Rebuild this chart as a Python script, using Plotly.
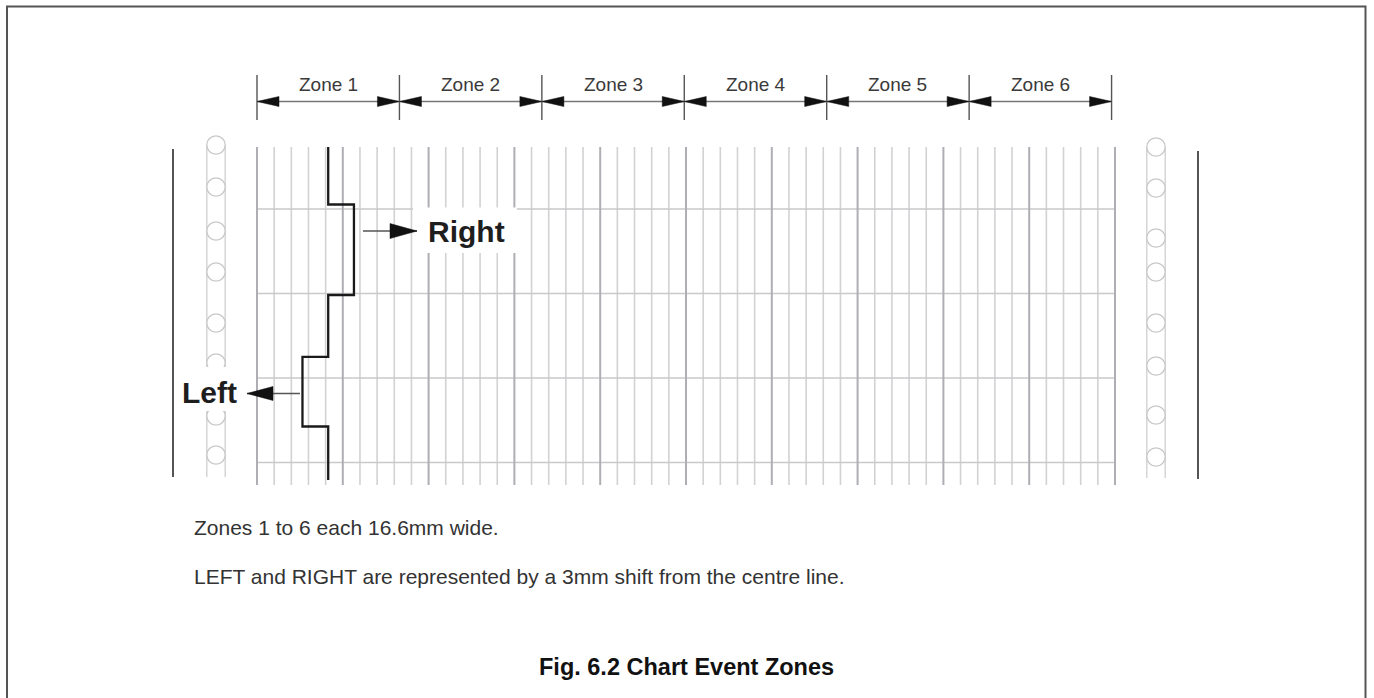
import plotly.graph_objects as go

# ---------------- data ----------------
zone_labels = ["Zone 1", "Zone 2", "Zone 3", "Zone 4", "Zone 5", "Zone 6"]
zone_width_mm = 16.6
chart_width_mm = 100
minor_grid_mm = 2
major_grid_mm = 10
time_lines = [0, 10, 20, 30]           # horizontal chart lines
centre_line_mm = 8.3                    # centre of zone 1
shift_mm = 3                            # LEFT/RIGHT shift
event_x = [8.3, 8.3, 11.3, 11.3, 8.3, 8.3, 5.3, 5.3, 8.3, 8.3]
event_y = [-7.34, -0.53, -0.53, 10.18, 10.18, 17.51, 17.51, 25.74, 25.74, 32.07]
note_lines = ["Zones 1 to 6 each 16.6mm wide.",
              "LEFT and RIGHT are represented by a 3mm shift from the centre line."]
title_text = "Fig. 6.2 Chart Event Zones"

# ---------------- geometry (pixel helpers) ----------------
W, H = 1374, 698
X0_PX, PX_PER_MM = 257.0, 8.58
Y0_PX, PX_PER_U = 209.0, 8.45


def xd(px):
    return (px - X0_PX) / PX_PER_MM


def yd(py):
    return (py - Y0_PX) / PX_PER_U


def pxp(px):
    return px / W


def pyp(py):
    return 1 - py / H


FONT = "Liberation Sans, Arial, sans-serif"
fig = go.Figure()

# grid lines
grid_top, grid_bot = yd(147), yd(485)
n_lines = int(chart_width_mm / minor_grid_mm) + 1
gx_minor, gy_minor, gx_major, gy_major = [], [], [], []
for i in range(n_lines):
    x = i * minor_grid_mm
    if x % major_grid_mm == 0:
        gx_major += [x, x, None]
        gy_major += [grid_top, grid_bot, None]
    else:
        gx_minor += [x, x, None]
        gy_minor += [grid_top, grid_bot, None]
hx, hy = [], []
for t in time_lines:
    hx += [0, chart_width_mm, None]
    hy += [t, t, None]

fig.add_trace(go.Scatter(x=gx_minor, y=gy_minor, mode="lines",
                         line=dict(color="#d2d2d4", width=1.6), hoverinfo="skip"))
fig.add_trace(go.Scatter(x=hx, y=hy, mode="lines",
                         line=dict(color="#c9c9cb", width=1.6), hoverinfo="skip"))
fig.add_trace(go.Scatter(x=gx_major, y=gy_major, mode="lines",
                         line=dict(color="#aeaeb4", width=2), hoverinfo="skip"))
# event pen trace
fig.add_trace(go.Scatter(x=event_x, y=event_y, mode="lines",
                         line=dict(color="#1a1a1a", width=2.3), hoverinfo="skip"))

shapes = []
# outer frame
shapes.append(dict(type="rect", xref="paper", yref="paper",
                   x0=pxp(7), x1=pxp(1365.5), y0=pyp(720), y1=pyp(6.5),
                   line=dict(color="#555555", width=2), layer="below"))
# sprocket strips and side lines
for cx, ys, y_top, y_bot, side_x, sy0, sy1 in [
        (216, [145, 187, 231, 272, 323, 363, 416, 455], 145, 477, 173, 149, 477),
        (1156, [147, 188, 238, 272, 323, 366, 415, 457], 147, 478, 1198, 151, 479)]:
    for dx in (-9.2, 9.2):
        shapes.append(dict(type="line", xref="x", yref="y",
                           x0=xd(cx + dx), x1=xd(cx + dx), y0=yd(y_top), y1=yd(y_bot),
                           line=dict(color="#cfcfcf", width=1.3), layer="below"))
    for cy in ys:
        shapes.append(dict(type="circle", xref="x", yref="y",
                           x0=xd(cx - 9.2), x1=xd(cx + 9.2), y0=yd(cy - 9.2), y1=yd(cy + 9.2),
                           line=dict(color="#c8c8c8", width=1.3), fillcolor="white", layer="below"))
    shapes.append(dict(type="line", xref="x", yref="y",
                       x0=xd(side_x), x1=xd(side_x), y0=yd(sy0), y1=yd(sy1),
                       line=dict(color="#2a2a2a", width=1.6), layer="below"))

# white label boxes
shapes.append(dict(type="rect", xref="x", yref="y", x0=xd(413), x1=xd(517), y0=yd(207.5), y1=yd(253),
                   fillcolor="white", line=dict(width=0), layer="above"))
shapes.append(dict(type="rect", xref="x", yref="y", x0=xd(180), x1=xd(249), y0=yd(367), y1=yd(411),
                   fillcolor="white", line=dict(width=0), layer="above"))


def arrow_head(tip_x, tip_y, length, half, direction):
    bx = tip_x - direction * length
    return dict(type="path", xref="x", yref="y",
                path=f"M {tip_x},{tip_y} L {bx},{tip_y - half} L {bx},{tip_y + half} Z",
                fillcolor="#111111", line=dict(color="#111111", width=0.5), layer="above")


# zone dimension arrows
dim_y = yd(101.5)
tick_y0, tick_y1 = yd(75), yd(120)
hl, hh = 22 / PX_PER_MM, 5 / PX_PER_U
for k in range(len(zone_labels) + 1):
    bx = k * zone_width_mm
    shapes.append(dict(type="line", xref="x", yref="y", x0=bx, x1=bx, y0=tick_y0, y1=tick_y1,
                       line=dict(color="#555555", width=1.4), layer="above"))
for k in range(len(zone_labels)):
    L, R = k * zone_width_mm, (k + 1) * zone_width_mm
    shapes.append(dict(type="line", xref="x", yref="y", x0=L, x1=R, y0=dim_y, y1=dim_y,
                       line=dict(color="#777777", width=1.4), layer="above"))
    shapes.append(arrow_head(L, dim_y, hl, hh, -1))
    shapes.append(arrow_head(R, dim_y, hl, hh, 1))

# RIGHT / LEFT arrows
ry = yd(231)
shapes.append(dict(type="line", xref="x", yref="y",
                   x0=centre_line_mm + shift_mm + xd(363) - xd(354), x1=xd(417), y0=ry, y1=ry,
                   line=dict(color="#555555", width=1.3), layer="above"))
shapes.append(arrow_head(xd(417), ry, 27 / PX_PER_MM, 7.5 / PX_PER_U, 1))
ly = yd(393.5)
shapes.append(dict(type="line", xref="x", yref="y",
                   x0=centre_line_mm - shift_mm - (xd(302.5) - xd(300)), x1=xd(247), y0=ly, y1=ly,
                   line=dict(color="#555555", width=1.3), layer="above"))
shapes.append(arrow_head(xd(247), ly, 26 / PX_PER_MM, 7 / PX_PER_U, -1))

annotations = []
for k, lab in enumerate(zone_labels):
    annotations.append(dict(x=(k + 0.5) * zone_width_mm, y=yd(84), xref="x", yref="y",
                            text=lab, showarrow=False, xanchor="center", yanchor="middle",
                            font=dict(family=FONT, size=19, color="#3a3a3a")))
annotations.append(dict(x=xd(426), y=yd(231), xref="x", yref="y", text="<b>Right</b>",
                        showarrow=False, xanchor="left", yanchor="middle",
                        font=dict(family=FONT, size=30, color="#1e1e1e")))
annotations.append(dict(x=xd(238.5), y=yd(392.5), xref="x", yref="y", text="<b>Left</b>",
                        showarrow=False, xanchor="right", yanchor="middle",
                        font=dict(family=FONT, size=30, color="#1e1e1e")))
for i, (line, py) in enumerate(zip(note_lines, [527, 576])):
    annotations.append(dict(x=pxp(192), y=pyp(py), xref="paper", yref="paper", text=line,
                            showarrow=False, xanchor="left", yanchor="middle",
                            font=dict(family=FONT, size=21, color="#333333")))
annotations.append(dict(x=pxp(686.5), y=pyp(667), xref="paper", yref="paper",
                        text=f"<b>{title_text}</b>", showarrow=False,
                        xanchor="center", yanchor="middle",
                        font=dict(family=FONT, size=23.5, color="#111111")))

fig.update_layout(
    width=W, height=H, autosize=False,
    margin=dict(l=0, r=0, t=0, b=0, pad=0),
    paper_bgcolor="white", plot_bgcolor="white",
    showlegend=False, hovermode=False,
    xaxis=dict(range=[xd(0), xd(W)], visible=False, fixedrange=True),
    yaxis=dict(range=[yd(H), yd(0)], visible=False, fixedrange=True),
    shapes=shapes, annotations=annotations,
)

fig.write_html("out.html", config={"displayModeBar": False},
               post_script="document.body.style.margin='0';document.body.style.overflow='hidden';")
